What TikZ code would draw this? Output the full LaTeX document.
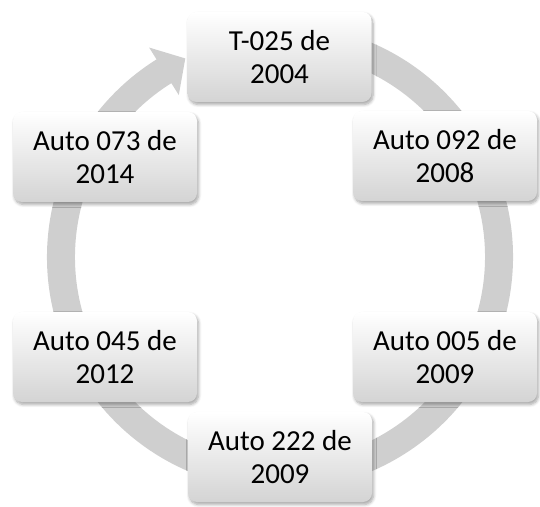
\documentclass[tikz,border=0pt]{standalone}
\usepackage{fontspec}
\setmainfont{Carlito}
\usetikzlibrary{calc,shadows.blur}
\tikzset{
  card/.style={rounded corners=9pt, minimum width=184pt, minimum height=90pt,
    top color=white, bottom color=black!17, draw=none, align=center,
    font=\fontsize{29}{33}\selectfont, inner sep=2pt,
    blur shadow={shadow blur steps=6, shadow xshift=1.5pt, shadow yshift=-2.5pt, shadow opacity=35, shadow blur radius=3pt}},
  ringfill/.style={fill=black!19, draw=none}
}
\begin{document}
\begin{tikzpicture}[x=1pt,y=1pt]
\useasboundingbox (0,0) rectangle (540,506);
\coordinate (C) at (280,249);
% continuous cycle arrow
\fill[ringfill] ($(C)+(80:233)$) arc[start angle=80, end angle=-238, radius=233]
  -- ($(C)+(122:247)$) -- ($(C)+(115.5:220)$) -- ($(C)+(122:191)$)
  -- ($(C)+(122:205)$) arc[start angle=-238, end angle=80, radius=205] -- cycle;
% boxes
\node[card] (t025) at (279.5,449) {T-025 de\\2004};
\node[card] (a092) at (445,350) {Auto 092 de\\2008};
\node[card] (a005) at (445,149) {Auto 005 de\\2009};
\node[card] (a222) at (280,49) {Auto 222 de\\2009};
\node[card] (a045) at (105,149) {Auto 045 de\\2012};
\node[card] (a073) at (105,349) {Auto 073 de\\2014};
\end{tikzpicture}
\end{document}
